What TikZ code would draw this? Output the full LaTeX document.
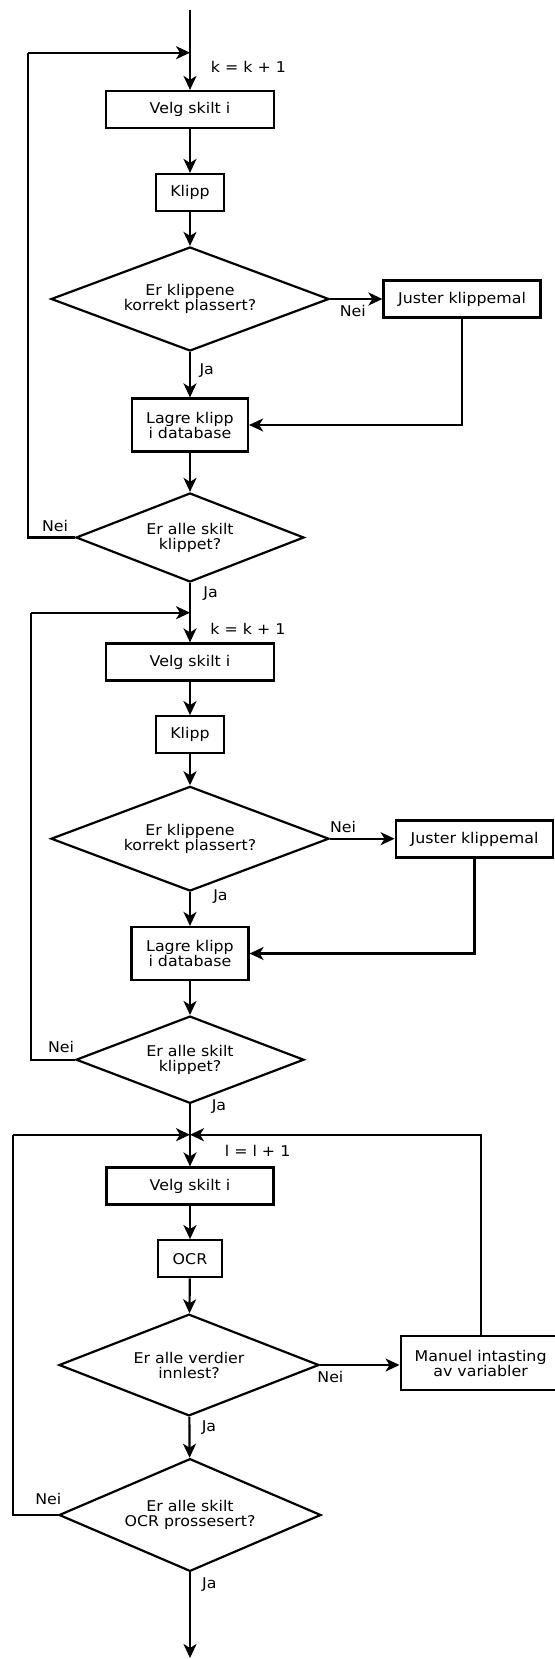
\documentclass[tikz,border=0pt]{standalone}
\usepackage{fontspec}
\setmainfont{DejaVu Sans}[FakeStretch=1.07]
\usetikzlibrary{arrows.meta,shapes.geometric}

\begin{document}
\begin{tikzpicture}[>={Stealth[length=14pt,width=13pt,inset=4pt]},x=1pt,y=-1pt,line width=2.2pt,
        font=\fontsize{14.8}{15}\selectfont,
        boks/.style={draw,rectangle,inner sep=0pt,minimum height=37pt,align=center},
        valg/.style={draw,diamond,aspect=3,inner sep=0pt,align=center},
        merke/.style={inner sep=0pt}]
        \useasboundingbox (0,0) rectangle (554,1659);
        \coordinate (start) at (190,10);
        \coordinate (jA) at (190,52.7);
        \coordinate (returA) at (28,52.7);
        \node[boks,minimum width=168pt] (velgA) at (190,109.5) {Velg skilt i};
        \node[boks,minimum width=68pt] (klippA) at (190,192.5) {Klipp};
        \node[valg,minimum width=278pt,minimum height=104pt] (kontrollA) at (190,299) {Er klippene\\korrekt plassert?};
        \node[boks,minimum width=157pt] (justerA) at (462,299) {Juster klippemal};
        \node[boks,minimum width=116pt,minimum height=53pt] (lagreA) at (190,425) {Lagre klipp\\i database};
        \node[valg,minimum width=228pt,minimum height=89pt] (ferdigA) at (190,537.5) {Er alle skilt\\klippet?};
        \node[merke] (tellerA) at (248.5,67) {k = k + 1};
        \node[merke] (neiA) at (352.8,311) {Nei};
        \node[merke] (jaA) at (206.7,371) {Ja};
        \node[merke] (neiB) at (55,525.7) {Nei};
        \node[merke] (jaB) at (210.6,593.3) {Ja};
        \draw[->] (start) -- (velgA);
        \draw[->] (returA) -- (jA);
        \draw[->] (velgA) -- (klippA);
        \draw[->] (klippA) -- (kontrollA);
        \draw[->] (kontrollA.east) -- (kontrollA.east -| justerA.west);
        \draw[->] (kontrollA) -- (lagreA);
        \draw[->] (justerA.south) |- (lagreA.east);
        \draw[->] (lagreA) -- (ferdigA);
        \draw (ferdigA.west) -| (returA);

        \coordinate (jB) at (190,612.7);
        \coordinate (returB) at (31,612.7);
        \node[boks,minimum width=168pt] (velgB) at (190,662) {Velg skilt i};
        \node[boks,minimum width=68pt] (klippB) at (190,734.7) {Klipp};
        \node[valg,minimum width=278pt,minimum height=104.7pt] (kontrollB) at (190,838.7) {Er klippene\\korrekt plassert?};
        \node[boks,minimum width=157.6pt] (justerB) at (474.5,839) {Juster klippemal};
        \node[boks,minimum width=117pt,minimum height=53pt] (lagreB) at (190,953.5) {Lagre klipp\\i database};
        \node[valg,minimum width=228pt,minimum height=87.3pt] (ferdigB) at (190,1059.7) {Er alle skilt\\klippet?};
        \node[merke] (tellerB) at (248,628.7) {k = k + 1};
        \node[merke] (neiC) at (343,827.3) {Nei};
        \node[merke] (jaC) at (220.5,896.7) {Ja};
        \node[merke] (neiD) at (61,1046.7) {Nei};
        \node[merke] (jaD) at (219,1106.7) {Ja};
        \draw[->] (ferdigA) -- (velgB);
        \draw[->] (returB) -- (jB);
        \draw[->] (velgB) -- (klippB);
        \draw[->] (klippB) -- (kontrollB);
        \draw[->] (kontrollB.east) -- (kontrollB.east -| justerB.west);
        \draw[->] (kontrollB) -- (lagreB);
        \draw[->] (justerB.south) |- (lagreB.east);
        \draw[->] (lagreB) -- (ferdigB);
        \draw (ferdigB.west) -| (returB);

        \coordinate (jC) at (190,1134.7);
        \coordinate (returC) at (12.7,1134.7);
        \coordinate (slutt) at (190,1658);
        \node[boks,minimum width=167pt] (velgC) at (190,1186) {Velg skilt i};
        \node[boks,minimum width=63.3pt] (ocr) at (190,1258.7) {OCR};
        \node[valg,minimum width=260pt,minimum height=101.7pt] (innlest) at (189,1365) {Er alle verdier\\innlest?};
        \node[boks,minimum width=160pt,minimum height=54pt] (manuel) at (480.6,1363) {Manuel intasting\\av variabler};
        \node[valg,minimum width=262pt,minimum height=112.7pt] (ferdigC) at (190,1515) {Er alle skilt\\OCR prossesert?};
        \node[merke] (tellerC) at (257.6,1150.7) {l = l + 1};
        \node[merke] (neiE) at (330.4,1376.7) {Nei};
        \node[merke] (jaE) at (209,1427.7) {Ja};
        \node[merke] (neiF) at (48.3,1499) {Nei};
        \node[merke] (jaF) at (209.3,1584.3) {Ja};
        \draw[->] (ferdigB) -- (velgC);
        \draw[->] (returC) -- (jC);
        \draw[->] (manuel.north) |- (jC);
        \draw[->] (velgC) -- (ocr);
        \draw[->] (ocr) -- (innlest);
        \draw[->] (innlest.east) -- (innlest.east -| manuel.west);
        \draw[->] (innlest) -- (ferdigC);
        \draw (ferdigC.west) -| (returC);
        \draw[->] (ferdigC) -- (slutt);
    \end{tikzpicture}
\end{document}
